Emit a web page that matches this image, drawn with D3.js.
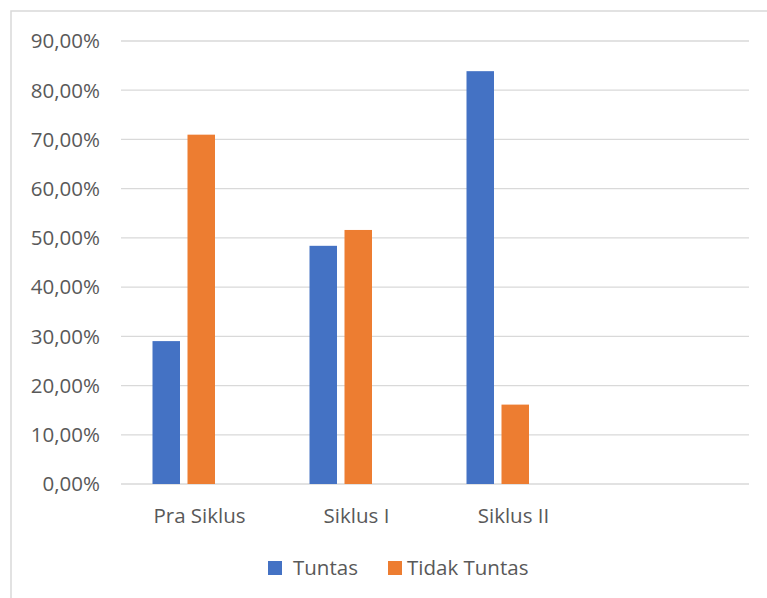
<!DOCTYPE html>
<html>
<head>
<meta charset="utf-8">
<script src="https://cdn.jsdelivr.net/npm/d3@7"></script>
<style>
  body { margin: 0; background: #fff; }
  text { font-family: "Open Sans", "Noto Sans", sans-serif; fill: #595959; }
</style>
</head>
<body>
<div id="chart"></div>
<script>
var categories = ["Pra Siklus", "Siklus I", "Siklus II", ""];
var seriesNames = ["Tuntas", "Tidak Tuntas"];
var tuntas = [0.2903, 0.4839, 0.8387, null];
var tidakTuntas = [0.7097, 0.5161, 0.1613, null];
var yTicks = [0, 0.1, 0.2, 0.3, 0.4, 0.5, 0.6, 0.7, 0.8, 0.9];
var colors = ["#4472C4", "#ED7D31"];

var W = 767, H = 598;
var svg = d3.select("#chart").append("svg").attr("width", W).attr("height", H);

// chart border
svg.append("rect")
  .attr("x", 11).attr("y", 11).attr("width", W).attr("height", H)
  .attr("fill", "none").attr("stroke", "#d9d9d9").attr("stroke-width", 1.5);

var x = d3.scaleBand().domain(d3.range(categories.length)).range([121, 749]);
// three slots per category (third slot is left empty, as in the original)
var x1 = d3.scaleBand().domain([0, 1, 2]).range([31.5, 129]).paddingInner(0.2143);
var y = d3.scaleLinear().domain([0, 0.9]).range([484, 41]);
var fmt = function (v) { return d3.format(".2f")(v * 100).replace(".", ",") + "%"; };

// gridlines
svg.append("g").selectAll("line").data(yTicks).enter().append("line")
  .attr("x1", 121).attr("x2", 749)
  .attr("y1", function (d) { return y(d); })
  .attr("y2", function (d) { return y(d); })
  .attr("stroke", "#d9d9d9").attr("stroke-width", 1.3);

// y labels
svg.append("g").selectAll("text").data(yTicks).enter().append("text")
  .attr("x", 100).attr("y", function (d) { return y(d); })
  .attr("dy", "0.36em").attr("text-anchor", "end")
  .style("font-size", "20.5px")
  .text(fmt);

// x labels
svg.append("g").selectAll("text").data(categories).enter().append("text")
  .attr("x", function (d, i) { return x(i) + x.bandwidth() / 2; })
  .attr("y", 523).attr("text-anchor", "middle")
  .style("font-size", "20.5px")
  .text(function (d) { return d; });

// bars
[tuntas, tidakTuntas].forEach(function (vals, s) {
  svg.append("g").selectAll("rect")
    .data(vals.map(function (v, i) { return { v: v, i: i }; }).filter(function (d) { return d.v != null; }))
    .enter().append("rect")
    .attr("x", function (d) { return x(d.i) + x1(s); })
    .attr("width", x1.bandwidth())
    .attr("y", function (d) { return y(d.v); })
    .attr("height", function (d) { return y(0) - y(d.v); })
    .attr("fill", colors[s]);
});

// legend
var legX = [268, 388];
var leg = svg.append("g").selectAll("g").data(seriesNames).enter().append("g")
  .attr("transform", function (d, i) { return "translate(" + legX[i] + ",561)"; });
leg.append("rect").attr("width", 14).attr("height", 14)
  .attr("fill", function (d, i) { return colors[i]; });
leg.append("text").attr("x", function (d, i) { return i === 0 ? 25 : 19; }).attr("y", 7)
  .attr("dy", "0.36em").style("font-size", "20.5px")
  .text(function (d) { return d; });
</script>
</body>
</html>
